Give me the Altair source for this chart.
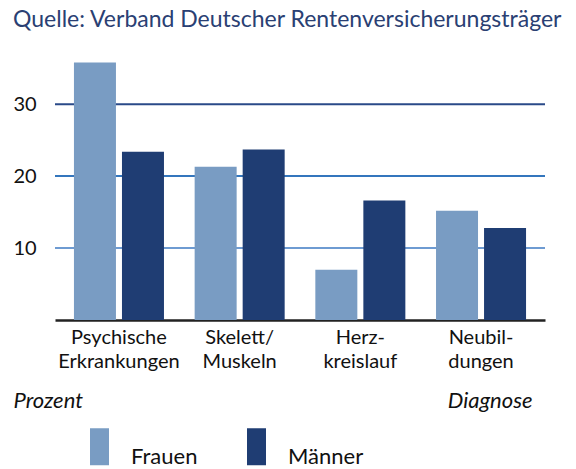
import altair as alt
import pandas as pd

categories = ["Psychische|Erkrankungen", "Skelett/|Muskeln", "Herz-|kreislauf", "Neubil-|dungen"]
groups = ["Frauen", "Männer"]
frauen = [35.8, 21.3, 7.0, 15.2]
maenner = [23.4, 23.7, 16.6, 12.8]
grid_values = [10, 20, 30]
grid_colors = ["#6e9bd2", "#3476bd", "#2a4a88"]

rows = []
for c, f, m in zip(categories, frauen, maenner):
    rows.append({"Kategorie": c, "Gruppe": "Frauen", "Wert": f})
    rows.append({"Kategorie": c, "Gruppe": "Männer", "Wert": m})
df = pd.DataFrame(rows)
grid_df = pd.DataFrame({"v": grid_values, "c": grid_colors})

FONT = "Lato"
W, H = 490, 259

yscale = alt.Scale(domain=[0, 36], nice=False)

grid = alt.Chart(grid_df).mark_rule(strokeWidth=2).encode(
    y=alt.Y("v:Q", scale=yscale),
    color=alt.Color("c:N", scale=None),
)

bars = alt.Chart(df).mark_bar(size=42).encode(
    x=alt.X(
        "Kategorie:N",
        sort=categories,
        scale=alt.Scale(paddingInner=0.254, paddingOuter=0.157),
        axis=alt.Axis(
            title="Diagnose",
            titleFont=FONT,
            titleFontSize=22,
            titleFontStyle="italic",
            titleFontWeight="normal",
            titleColor="#111111",
            titleAlign="right",
            titleBaseline="alphabetic",
            titleX=477,
            titleY=87,
            labelExpr="split(datum.label, '|')",
            labelAngle=0,
            labelFont=FONT,
            labelFontSize=20,
            labelColor="#111111",
            labelLineHeight=24,
            labelPadding=7,
            labelBaseline="top",
            ticks=False,
            domainColor="#222222",
            domainWidth=2.5,
        ),
    ),
    xOffset=alt.XOffset("Gruppe:N", sort=groups, scale=alt.Scale(paddingInner=0.125, paddingOuter=0)),
    y=alt.Y(
        "Wert:Q",
        scale=yscale,
        axis=alt.Axis(
            values=grid_values,
            title="Prozent",
            titleFont=FONT,
            titleFontSize=22,
            titleFontStyle="italic",
            titleFontWeight="normal",
            titleColor="#111111",
            titleAngle=0,
            titleAlign="left",
            titleBaseline="alphabetic",
            titleX=-42,
            titleY=346,
            labelAlign="left",
            labelPadding=42,
            labelFont=FONT,
            labelFontSize=20,
            labelColor="#111111",
            ticks=False,
            domain=False,
            grid=False,
        ),
    ),
    color=alt.Color(
        "Gruppe:N",
        sort=groups,
        scale=alt.Scale(domain=groups, range=["#799cc3", "#1f3d73"]),
        legend=alt.Legend(
            title=None,
            orient="none",
            direction="horizontal",
            legendX=26,
            legendY=367,
            symbolType="M-0.514,-1H0.514V1H-0.514Z",
            symbolSize=1369,
            symbolStrokeWidth=0,
            symbolOpacity=1,
            labelFont=FONT,
            labelFontSize=22,
            labelColor="#111111",
            labelOffset=13,
            labelBaseline="top",
            columnPadding=40,
        ),
    ),
)

chart = alt.layer(grid, bars).properties(
    width=W,
    height=H,
    autosize=alt.AutoSizeParams(type="none"),
    padding={"left": 47, "top": 53, "right": 23, "bottom": 149},
    title=alt.Title(
        "Quelle: Verband Deutscher Rentenversicherungsträger",
        anchor="start",
        font=FONT,
        fontSize=23,
        fontWeight="normal",
        color="#2a4073",
        offset=29,
    ),
).configure_view(stroke=None)

chart.save("out.html", embed_options={"renderer": "svg", "actions": False})
